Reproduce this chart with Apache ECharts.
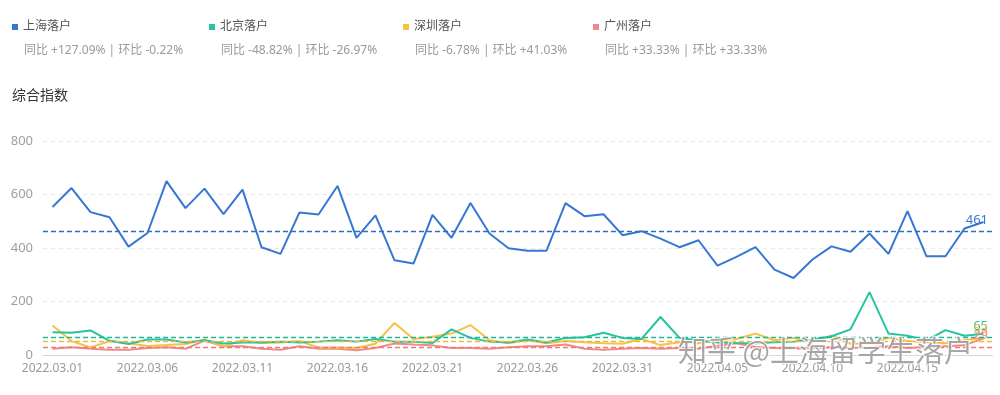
<!DOCTYPE html>
<html>
<head>
<meta charset="utf-8">
<script src="https://cdn.jsdelivr.net/npm/echarts@6/dist/echarts.min.js"></script>
<style>
html,body{margin:0;padding:0;background:#fff;}
#chart{width:1000px;height:395px;}
</style>
</head>
<body>
<div id="chart"></div>
<script>
var dates = ['2022.03.01','2022.03.02','2022.03.03','2022.03.04','2022.03.05','2022.03.06','2022.03.07','2022.03.08','2022.03.09','2022.03.10',
'2022.03.11','2022.03.12','2022.03.13','2022.03.14','2022.03.15','2022.03.16','2022.03.17','2022.03.18','2022.03.19','2022.03.20',
'2022.03.21','2022.03.22','2022.03.23','2022.03.24','2022.03.25','2022.03.26','2022.03.27','2022.03.28','2022.03.29','2022.03.30',
'2022.03.31','2022.04.01','2022.04.02','2022.04.03','2022.04.04','2022.04.05','2022.04.06','2022.04.07','2022.04.08','2022.04.09',
'2022.04.10','2022.04.11','2022.04.12','2022.04.13','2022.04.14','2022.04.15','2022.04.16','2022.04.17','2022.04.18','2022.04.19'];

var seriesNames = ['上海落户','北京落户','深圳落户','广州落户'];
var seriesStats = ['同比 +127.09% | 环比 -0.22%','同比 -48.82% | 环比 -26.97%','同比 -6.78% | 环比 +41.03%','同比 +33.33% | 环比 +33.33%'];

var shanghai = [553,624,534,515,405,456,650,549,622,527,618,403,378,533,525,632,438,522,354,342,524,438,568,454,399,390,390,568,519,526,448,463,435,403,429,334,367,403,319,288,357,406,386,454,378,538,369,369,473,497];
var beijing = [85,83,92,53,41,58,58,47,55,43,47,47,50,47,50,55,50,60,50,50,45,96,64,50,47,58,47,64,66,83,64,60,142,64,54,47,45,44,48,50,58,70,96,235,80,72,55,93,72,79];
var shenzhen = [110,52,28,52,44,34,37,41,57,32,55,45,47,52,28,28,26,42,120,60,68,80,112,55,44,55,44,52,48,44,42,60,37,48,44,55,60,80,55,64,48,72,42,44,64,52,48,44,55,65];
var guangzhou = [23,29,23,20,20,26,29,23,54,33,33,23,20,33,23,23,18,26,43,39,36,26,26,23,29,33,33,39,23,20,23,26,23,26,23,35,44,30,26,23,26,29,26,29,33,26,29,33,36,62];

var yTicks = {min:0, max:800, interval:200};

var colors = ['#3677d2','#26c4a0','#f5c244','#ef8a88'];
var markColors = ['#2f6fc4','#1fba95','#f0b83a','#ec7c7a'];
var allData = [shanghai, beijing, shenzhen, guangzhou];
var legendLeft = [12, 209, 403, 593];
var FONT = '"Noto Sans", "Noto Sans CJK SC", sans-serif';

var chart = echarts.init(document.getElementById('chart'));

var legends = seriesNames.map(function(n, i){
  return {
    left: legendLeft[i], top: 21, padding: 0,
    data: [n], icon: 'rect', itemWidth: 6, itemHeight: 6,
    selectedMode: false,
    textStyle: {color:'#555', fontSize:12, fontFamily: FONT}
  };
});

var graphics = seriesStats.map(function(s, i){
  return {
    type:'text', left: legendLeft[i] + 12, top: 45,
    style:{text:s, fill:'#9a9a9a', font:'12px ' + FONT}
  };
});
graphics.push({
  type:'text', left: 677, top: 335, z: 100,
  style:{text:'知乎 @上海留学生落户', fill:'rgba(120,120,120,0.65)', stroke:'rgba(255,255,255,0.85)', lineWidth:2, font:'29px "Noto Sans CJK SC", sans-serif'}
});

var series = seriesNames.map(function(n, i){
  var ls = {type:[5,3], width:1.3, color: markColors[i], opacity: 1};
  return {
    name: n, type:'line', data: allData[i], showSymbol:false, symbol:'none',
    lineStyle:{width:2, color: colors[i]}, itemStyle:{color: colors[i]},
    z: 4 - i,
    markLine: {
      silent: true, symbol: 'none', precision: 0,
      data: [{type:'average', lineStyle: ls}],
      lineStyle: ls,
      label: {position:'insideEndTop', color: colors[i], fontSize:13, fontFamily: FONT,
        formatter: function(p){ return Math.round(p.value); }}
    }
  };
});

chart.setOption({
  animation:false,
  color: colors,
  title: {text:'综合指数', left: 12, top: 89, padding: 0,
    textStyle:{fontSize:14, fontWeight:'normal', color:'#333', fontFamily: FONT}},
  legend: legends,
  graphic: graphics,
  grid: {left: 43, right: 7, top: 141, bottom: 40},
  xAxis: {
    type:'category', data: dates, boundaryGap: true,
    axisLine:{lineStyle:{color:'#d9d9d9'}},
    axisTick:{alignWithLabel:true, interval:4, lineStyle:{color:'#d9d9d9'}, length:4},
    axisLabel:{interval:4, color:'#9a9a9a', fontSize:12, fontFamily: FONT, margin:8}
  },
  yAxis: {
    type:'value', min: yTicks.min, max: yTicks.max, interval: yTicks.interval,
    axisLine:{show:false}, axisTick:{show:false},
    axisLabel:{color:'#a0a0a0', fontSize:13, fontFamily: FONT, margin:10},
    splitLine:{lineStyle:{type:[4,4], color:'#e8e8e8'}}
  },
  series: series
});
</script>
</body>
</html>
